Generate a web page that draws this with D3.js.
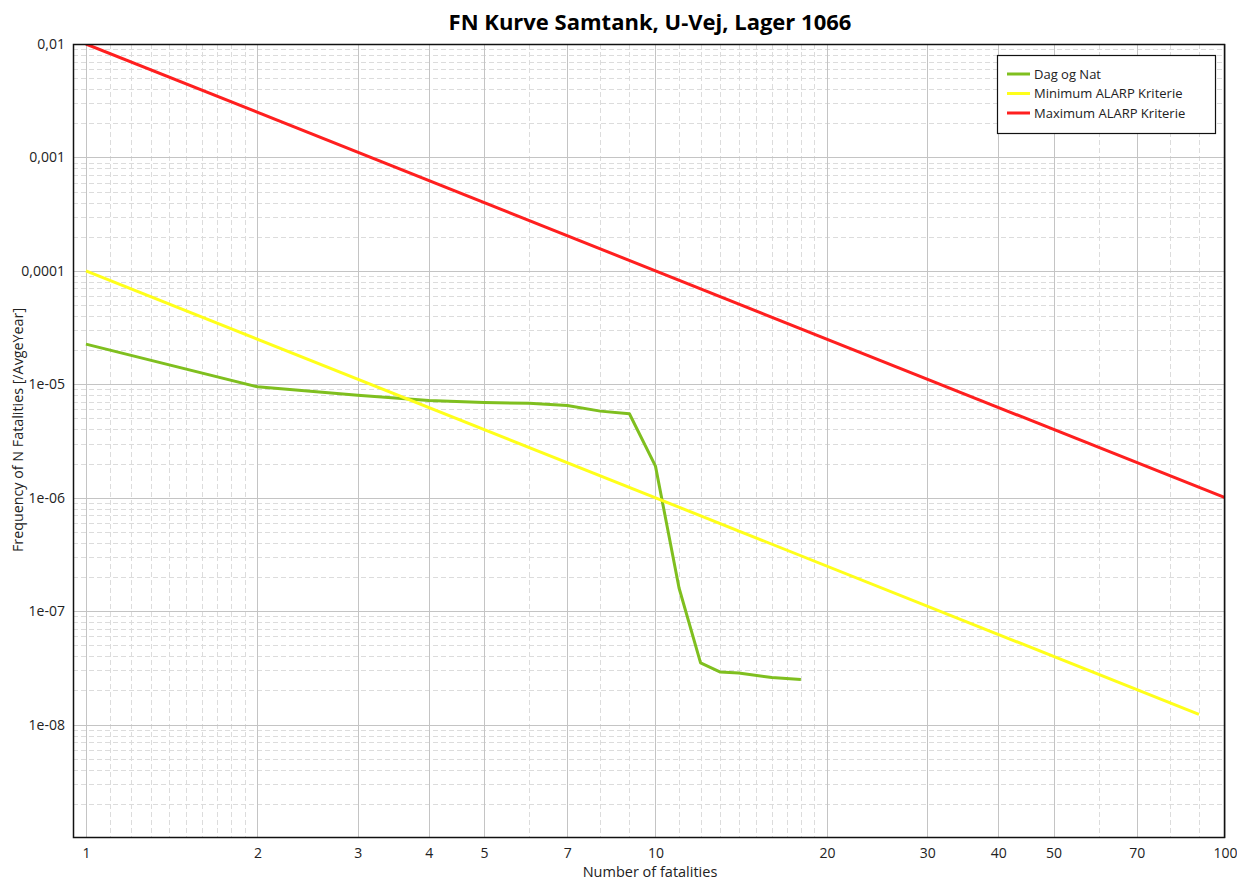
<!DOCTYPE html>
<html>
<head>
<meta charset="utf-8">
<script src="https://cdn.jsdelivr.net/npm/d3@7"></script>
<style>
  body { margin: 0; background: #fff; }
  svg text { font-family: "Open Sans", "Noto Sans", sans-serif; fill: #222; }
</style>
</head>
<body>
<div id="chart"></div>
<script>
// values
const seriesNames = ['Dag og Nat', 'Minimum ALARP Kriterie', 'Maximum ALARP Kriterie'];
const seriesColors = ['#7fbf1f', '#ffff1a', '#ff1f1f'];

const dagNatN = [1, 2, 3, 4, 5, 6, 7, 8, 9, 10, 11, 12, 13, 14, 16, 18];
const dagNatF = [2.26e-5, 9.5e-6, 8.0e-6, 7.2e-6, 6.9e-6, 6.8e-6, 6.5e-6, 5.8e-6, 5.5e-6,
  1.9e-6, 1.6e-7, 3.5e-8, 2.9e-8, 2.85e-8, 2.6e-8, 2.5e-8];
const minAlarpN = [1, 90];
const minAlarpF = [1e-4, 1.23e-8];
const maxAlarpN = [1, 100];
const maxAlarpF = [1e-2, 1e-6];

const xTickLabels = [1, 2, 3, 4, 5, 7, 10, 20, 30, 40, 50, 70, 100];
const xMinorTicks = [1.1, 1.2, 1.3, 1.4, 1.5, 1.6, 1.7, 1.8, 1.9, 6, 8, 9,
  11, 12, 13, 14, 15, 16, 17, 18, 19, 60, 80, 90];
const yTickValues = [1e-2, 1e-3, 1e-4, 1e-5, 1e-6, 1e-7, 1e-8];
const yTickLabels = ['0,01', '0,001', '0,0001', '1e-05', '1e-06', '1e-07', '1e-08'];

const width = 1237, height = 881;
const margin = { top: 44, right: 12, bottom: 43, left: 73 };

const svg = d3.select('#chart').append('svg')
  .attr('width', width)
  .attr('height', height);

const x = d3.scaleLog()
  .domain([0.949, 100])
  .range([margin.left, width - margin.right]);
const y = d3.scaleLog()
  .domain([1e-9, 1e-2])
  .range([height - margin.bottom, margin.top]);

// minor y grid: 2..9 in each decade
const yMinor = [];
for (let e = -9; e < -2; e++) {
  for (let m = 2; m <= 9; m++) yMinor.push(m * Math.pow(10, e));
}

const grid = svg.append('g').attr('class', 'grid');
grid.selectAll('line.y-minor').data(yMinor).enter()
  .append('line')
    .attr('class', 'y-minor')
    .attr('x1', margin.left).attr('x2', width - margin.right)
    .attr('y1', d => Math.round(y(d)) + 0.5).attr('y2', d => Math.round(y(d)) + 0.5)
    .attr('stroke', '#dcdcdc')
    .attr('stroke-dasharray', '5,3');
grid.selectAll('line.x-minor').data(xMinorTicks).enter()
  .append('line')
    .attr('class', 'x-minor')
    .attr('y1', margin.top).attr('y2', height - margin.bottom)
    .attr('x1', d => Math.round(x(d)) + 0.5).attr('x2', d => Math.round(x(d)) + 0.5)
    .attr('stroke', '#dcdcdc')
    .attr('stroke-dasharray', '5,3');
grid.selectAll('line.y-major').data(yTickValues).enter()
  .append('line')
    .attr('class', 'y-major')
    .attr('x1', margin.left).attr('x2', width - margin.right)
    .attr('y1', d => Math.round(y(d)) + 0.5).attr('y2', d => Math.round(y(d)) + 0.5)
    .attr('stroke', '#c4c4c4');
grid.selectAll('line.x-major').data(xTickLabels).enter()
  .append('line')
    .attr('class', 'x-major')
    .attr('y1', margin.top).attr('y2', height - margin.bottom)
    .attr('x1', d => Math.round(x(d)) + 0.5).attr('x2', d => Math.round(x(d)) + 0.5)
    .attr('stroke', '#c4c4c4');

// series lines
const series = [
  { n: dagNatN, f: dagNatF },
  { n: minAlarpN, f: minAlarpF },
  { n: maxAlarpN, f: maxAlarpF }
];
const lineGen = d3.line()
  .x(d => x(d[0]))
  .y(d => y(d[1]));

svg.append('defs').append('clipPath').attr('id', 'clip')
  .append('rect')
    .attr('x', margin.left).attr('y', margin.top)
    .attr('width', width - margin.left - margin.right)
    .attr('height', height - margin.top - margin.bottom);

svg.append('g').attr('clip-path', 'url(#clip)')
  .selectAll('path.series').data(series).enter()
  .append('path')
    .attr('class', 'series')
    .attr('fill', 'none')
    .attr('stroke', (d, i) => seriesColors[i])
    .attr('stroke-width', 3)
    .attr('stroke-linejoin', 'round')
    .attr('d', d => lineGen(d.n.map((v, i) => [v, d.f[i]])));

// plot frame
svg.append('rect')
  .attr('x', margin.left + 0.5).attr('y', margin.top + 0.5)
  .attr('width', width - margin.left - margin.right - 1)
  .attr('height', height - margin.top - margin.bottom - 1)
  .attr('fill', 'none')
  .attr('stroke', '#111')
  .attr('stroke-width', 1.5);

// axes
const xAxis = d3.axisBottom(x)
  .tickValues(xTickLabels)
  .tickFormat(d3.format('d'))
  .tickSize(0)
  .tickPadding(10);
svg.append('g')
  .attr('transform', `translate(0,${height - margin.bottom})`)
  .call(xAxis)
  .call(g => g.select('.domain').remove())
  .selectAll('text')
    .attr('font-size', 14);

const yAxis = d3.axisLeft(y)
  .tickValues(yTickValues)
  .tickFormat((d, i) => yTickLabels[i])
  .tickSize(0)
  .tickPadding(8);
svg.append('g')
  .attr('transform', `translate(${margin.left},0)`)
  .call(yAxis)
  .call(g => g.select('.domain').remove())
  .selectAll('text')
    .attr('font-size', 14);

// titles
svg.append('text')
  .attr('x', 650).attr('y', 30)
  .attr('text-anchor', 'middle')
  .attr('font-size', 22)
  .attr('font-weight', 'bold')
  .style('fill', '#000')
  .text('FN Kurve Samtank, U-Vej, Lager 1066');

svg.append('text')
  .attr('x', 650).attr('y', 877)
  .attr('text-anchor', 'middle')
  .attr('font-size', 14.5)
  .text('Number of fatalities');

svg.append('text')
  .attr('transform', 'translate(23,430) rotate(-90)')
  .attr('text-anchor', 'middle')
  .attr('font-size', 14.3)
  .text('Frequency of N Fatalities [/AvgeYear]');

// legend
const legend = svg.append('g').attr('transform', 'translate(997,55)');
legend.append('rect')
  .attr('x', 0.5).attr('y', 0.5)
  .attr('width', 218).attr('height', 78)
  .attr('fill', '#fff')
  .attr('stroke', '#111')
  .attr('stroke-width', 1.2);
const items = legend.selectAll('g.item').data(seriesNames).enter()
  .append('g')
    .attr('class', 'item')
    .attr('transform', (d, i) => `translate(10,${19 + i * 19.5})`);
items.append('line')
  .attr('x1', 0).attr('x2', 23)
  .attr('stroke', (d, i) => seriesColors[i])
  .attr('stroke-width', 3);
items.append('text')
  .attr('x', 27).attr('y', 4.5)
  .attr('font-size', 13)
  .text(d => d);
</script>
</body>
</html>
